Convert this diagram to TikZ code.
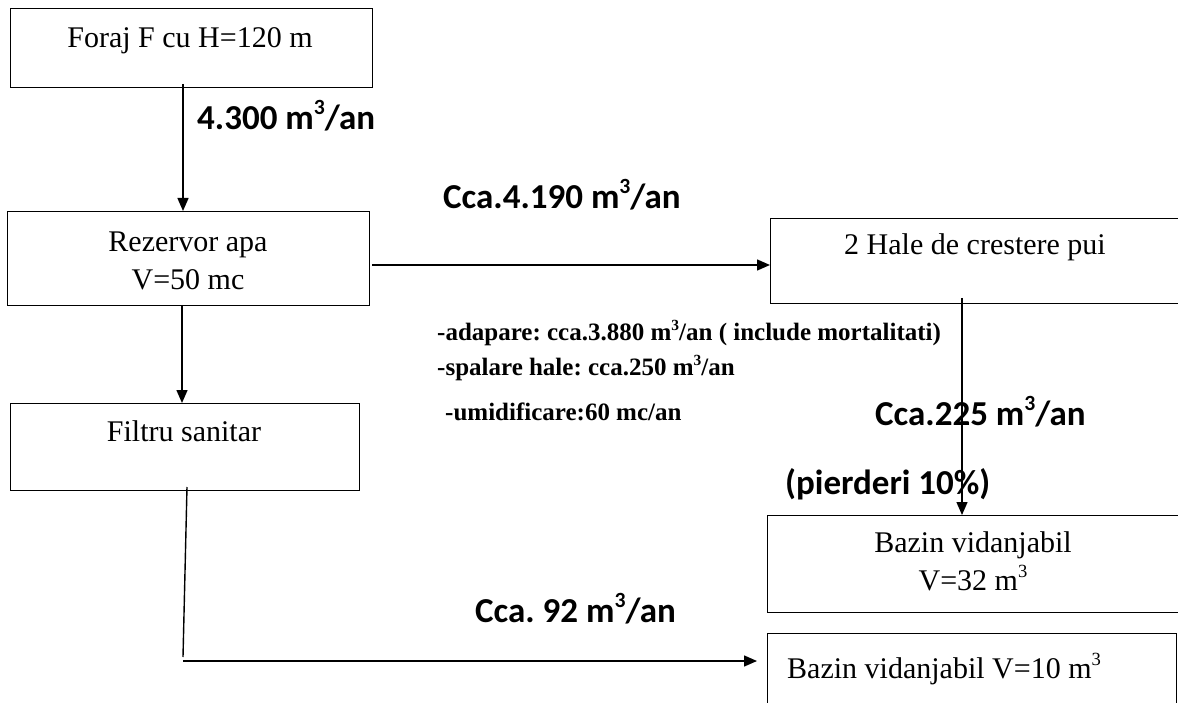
\documentclass[tikz,border=0pt]{standalone}
\usepackage{fontspec}
\setmainfont{Liberation Serif}
\newfontfamily\calib{Carlito}
\usetikzlibrary{arrows.meta}
\frenchspacing
\newcommand\supthree{\raisebox{0.42em}{\scalebox{0.62}{3}}}
\tikzset{
  box/.style={draw, line width=1.4pt, inner sep=0pt, anchor=north west},
  boxtext/.style={font=\fontsize{30}{34}\selectfont, inner sep=0pt, align=center},
  flow/.style={font=\calib\bfseries\fontsize{35}{38}\selectfont, inner sep=0pt, anchor=west},
  note/.style={font=\bfseries\fontsize{25}{28}\selectfont, inner sep=0pt, anchor=west},
  conn/.style={line width=1.4pt},
  arr/.style={conn, -{Triangle[length=13pt,width=11pt]}}
}
\begin{document}
\begin{tikzpicture}[x=1pt,y=-1pt]
\clip (0,0) rectangle (1178,703);
\fill[white] (0,0) rectangle (1178,703);
% boxes
\node[box, minimum width=362pt, minimum height=79pt] (foraj) at (10,8) {};
\node[box, minimum width=362pt, minimum height=94pt] (rez) at (7,211) {};
\node[box, minimum width=349pt, minimum height=87pt] (filtru) at (10,403) {};
\node[box, minimum width=420pt, minimum height=85pt] (hale) at (770,218) {};
\node[box, minimum width=420pt, minimum height=97pt] (b32) at (767,515) {};
\node[box, minimum width=409pt, minimum height=90pt] (b10) at (767,633) {};
% box texts
\node[boxtext] (tforaj) at (190,41) {Foraj F cu H=120 m};
\node[boxtext] (trez) at (188,261) {Rezervor apa\\[4pt]V=50 mc};
\node[boxtext] (tfiltru) at (184,431) {Filtru sanitar};
\node[boxtext] (thale) at (975,247) {2 Hale de crestere pui};
\node[boxtext] (tb32) at (973,561) {Bazin vidanjabil\\[4pt]V=32 m\supthree};
\node[boxtext, anchor=west] (tb10) at (787,669) {Bazin vidanjabil V=10 m\supthree};
% connectors
\coordinate (f0) at (183,84);
\draw[arr] (f0) -- (f0 |- rez.north);
\coordinate (r0) at (182,305);
\draw[arr] (r0) -- (r0 |- filtru.north);
\coordinate (r1) at (372,265);
\draw[arr] (r1) -- (r1 -| hale.west);
\coordinate (h1) at (962,298);
\draw[arr] (h1) -- (h1 |- b32.north);
\coordinate (s0) at (187,487);
\coordinate (s1) at (183,657);
\draw[conn] (s0) -- (s1);
\coordinate (s2) at (183,661);
\draw[arr, shorten >=10pt] (s2) -- (s2 -| b10.west);
% flow labels
\node[flow] (l1) at (197,116) {4.300 m\supthree/an};
\node[flow] (l2) at (443,195) {Cca.4.190 m\supthree/an};
\node[flow] (l3) at (875,412) {Cca.225 m\supthree/an};
\node[flow] (l4) at (785,484) {(pierderi 10\%)};
\node[flow] (l5) at (475,609) {Cca. 92 m\supthree/an};
% notes
\node[note] (n1) at (437,333) {-adapare: cca.3.880 m\supthree/an ( include mortalitati)};
\node[note] (n2) at (437,368) {-spalare hale: cca.250 m\supthree/an};
\node[note] (n3) at (445,412) {-umidificare:60 mc/an};
\end{tikzpicture}
\end{document}
